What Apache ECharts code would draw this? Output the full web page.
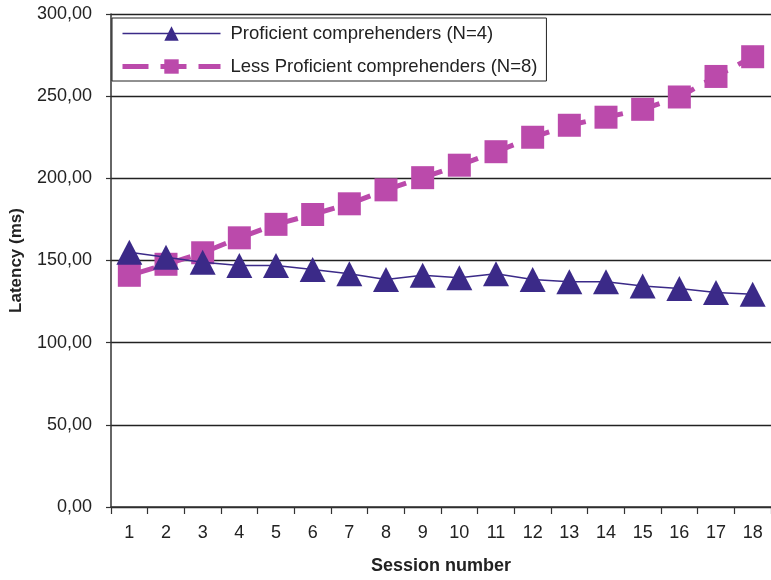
<!DOCTYPE html>
<html>
<head>
<meta charset="utf-8">
<script src="https://cdn.jsdelivr.net/npm/echarts@6/dist/echarts.min.js"></script>
<style>
  html, body { margin: 0; padding: 0; background: #fff; }
  #chart { width: 771px; height: 580px; }
</style>
</head>
<body>
<div id="chart"></div>
<script>
// Session numbers along the x axis
const sessions = ['1','2','3','4','5','6','7','8','9','10','11','12','13','14','15','16','17','18'];

// Mean latency (ms) per session
const proficient = [155, 152, 149, 147, 147, 144.5, 142, 138.5, 141, 139.5, 142, 138.5, 137, 137, 134.5, 133, 130.5, 129.5];
const lessProficient = [141, 147.7, 154.7, 163.8, 172, 178, 184.5, 193, 200.4, 208, 216.2, 225, 232.3, 237.2, 242, 249.5, 262, 274];

const seriesNames = ['Proficient comprehenders (N=4)', 'Less Proficient comprehenders (N=8)'];

const indigo = '#3b2a88';
const magenta = '#bb4aab';
const font = 'Liberation Sans, Arial, sans-serif';

const chart = echarts.init(document.getElementById('chart'), null, { renderer: 'canvas' });

chart.setOption({
  animation: false,
  backgroundColor: '#fff',
  grid: { left: 108, top: 14, width: 666, bottom: 71, containLabel: false },
  legend: {
    left: 112,
    top: 18,
    orient: 'vertical',
    backgroundColor: '#fff',
    borderColor: '#222',
    borderWidth: 1,
    borderRadius: 0,
    padding: [6, 9, 5, 8],
    itemGap: 14,
    itemWidth: 98,
    itemHeight: 18,
    lineStyle: { width: 'inherit', type: 'inherit' },
    textStyle: { fontFamily: font, fontSize: 18.5, color: '#222', padding: [0, 0, 0, 5] },
    data: seriesNames
  },
  xAxis: {
    type: 'category',
    data: sessions,
    boundaryGap: true,
    name: 'Session number',
    nameLocation: 'middle',
    nameGap: 50,
    nameTextStyle: { fontFamily: font, fontSize: 18, fontWeight: 'bold', color: '#222' },
    axisLine: { lineStyle: { color: '#333', width: 1.5 } },
    axisTick: { show: true, length: 7, alignWithLabel: false, lineStyle: { color: '#333', width: 1.2 } },
    axisLabel: { fontFamily: font, fontSize: 18, color: '#222', margin: 17 },
    splitLine: { show: false }
  },
  yAxis: {
    type: 'value',
    min: 0,
    max: 300,
    interval: 50,
    name: 'Latency (ms)',
    nameLocation: 'middle',
    nameGap: 86,
    nameTextStyle: { fontFamily: font, fontSize: 17, fontWeight: 'bold', color: '#222' },
    axisLine: { show: true, lineStyle: { color: '#333', width: 1.5 } },
    axisTick: { show: true, length: 5, lineStyle: { color: '#333', width: 1.2 } },
    axisLabel: {
      fontFamily: font, fontSize: 18, color: '#222', margin: 19,
      formatter: v => v.toFixed(2).replace('.', ',')
    },
    splitLine: { show: true, lineStyle: { color: '#222', width: 1.3 } }
  },
  series: [
    {
      name: seriesNames[1],
      type: 'line',
      data: lessProficient,
      symbol: 'rect',
      symbolSize: 23,
      z: 2,
      itemStyle: { color: magenta },
      lineStyle: { color: magenta, width: 5, type: [26, 12] }
    },
    {
      name: seriesNames[0],
      type: 'line',
      data: proficient,
      symbol: 'triangle',
      symbolSize: [26, 25],
      z: 3,
      itemStyle: { color: indigo },
      lineStyle: { color: indigo, width: 1.5 }
    }
  ]
});
</script>
</body>
</html>
